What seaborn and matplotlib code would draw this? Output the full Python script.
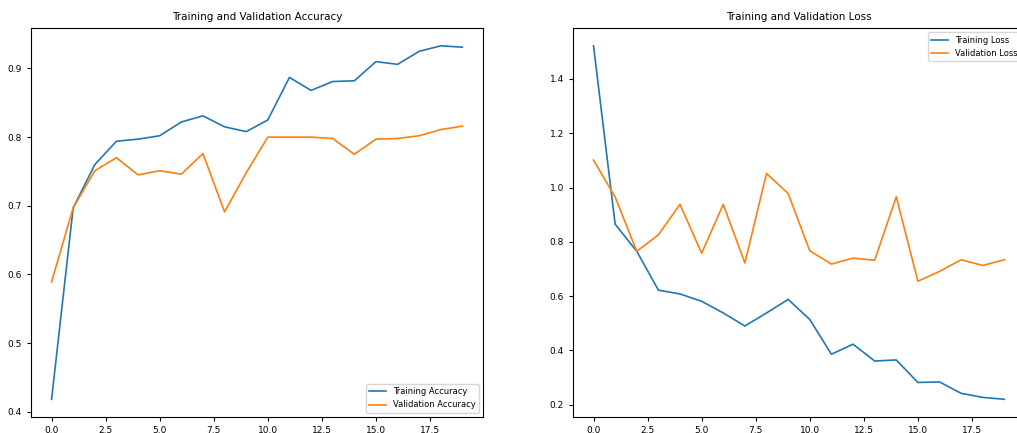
import matplotlib
matplotlib.use("Agg")
import matplotlib.pyplot as plt
import seaborn as sns
import pandas as pd

epochs = list(range(20))
train_acc = [0.418, 0.697, 0.760, 0.794, 0.797, 0.802, 0.822, 0.831, 0.815, 0.808,
             0.825, 0.887, 0.868, 0.881, 0.882, 0.910, 0.906, 0.925, 0.933, 0.931]
val_acc = [0.589, 0.697, 0.751, 0.770, 0.745, 0.751, 0.746, 0.776, 0.691, 0.748,
           0.800, 0.800, 0.800, 0.798, 0.775, 0.797, 0.798, 0.802, 0.811, 0.816]
train_loss = [1.522, 0.865, 0.765, 0.622, 0.608, 0.581, 0.538, 0.490, 0.538, 0.588,
              0.514, 0.386, 0.423, 0.361, 0.365, 0.282, 0.284, 0.242, 0.227, 0.220]
val_loss = [1.101, 0.965, 0.765, 0.826, 0.938, 0.758, 0.938, 0.722, 1.052, 0.978,
            0.767, 0.718, 0.740, 0.732, 0.966, 0.655, 0.691, 0.734, 0.713, 0.734]

plt.rcParams.update({
    "font.family": ["DejaVu Sans"],
    "xtick.labelsize": 6.5,
    "ytick.labelsize": 6.5,
    "axes.titlesize": 7.5,
    "legend.fontsize": 6,
    "axes.linewidth": 0.8,
    "xtick.major.size": 3,
    "ytick.major.size": 3,
})

fig = plt.figure(figsize=(10.17, 4.33), dpi=100)
ax1 = fig.add_axes([0.0305, 0.037, 0.4444, 0.898])
ax2 = fig.add_axes([0.5634, 0.037, 0.4444, 0.898])

c_blue = "#1f77b4"
c_orange = "#ff7f0e"

sns.lineplot(x=epochs, y=train_acc, ax=ax1, color=c_blue, label="Training Accuracy", linewidth=1.2)
sns.lineplot(x=epochs, y=val_acc, ax=ax1, color=c_orange, label="Validation Accuracy", linewidth=1.2)
ax1.legend(loc="lower right")
ax1.set_title("Training and Validation Accuracy")
ax1.set_xticks([0, 2.5, 5, 7.5, 10, 12.5, 15, 17.5])
ax1.set_xticklabels(["0.0", "2.5", "5.0", "7.5", "10.0", "12.5", "15.0", "17.5"])
ax1.set_yticks([0.4, 0.5, 0.6, 0.7, 0.8, 0.9])

sns.lineplot(x=epochs, y=train_loss, ax=ax2, color=c_blue, label="Training Loss", linewidth=1.2)
sns.lineplot(x=epochs, y=val_loss, ax=ax2, color=c_orange, label="Validation Loss", linewidth=1.2)
ax2.legend(loc="upper right")
ax2.set_title("Training and Validation Loss")
ax2.set_xticks([0, 2.5, 5, 7.5, 10, 12.5, 15, 17.5])
ax2.set_xticklabels(["0.0", "2.5", "5.0", "7.5", "10.0", "12.5", "15.0", "17.5"])
ax2.set_yticks([0.2, 0.4, 0.6, 0.8, 1.0, 1.2, 1.4])

for ax in (ax1, ax2):
    ax.set_xlabel("")
    ax.set_ylabel("")

fig.savefig("out.png", dpi=100)
